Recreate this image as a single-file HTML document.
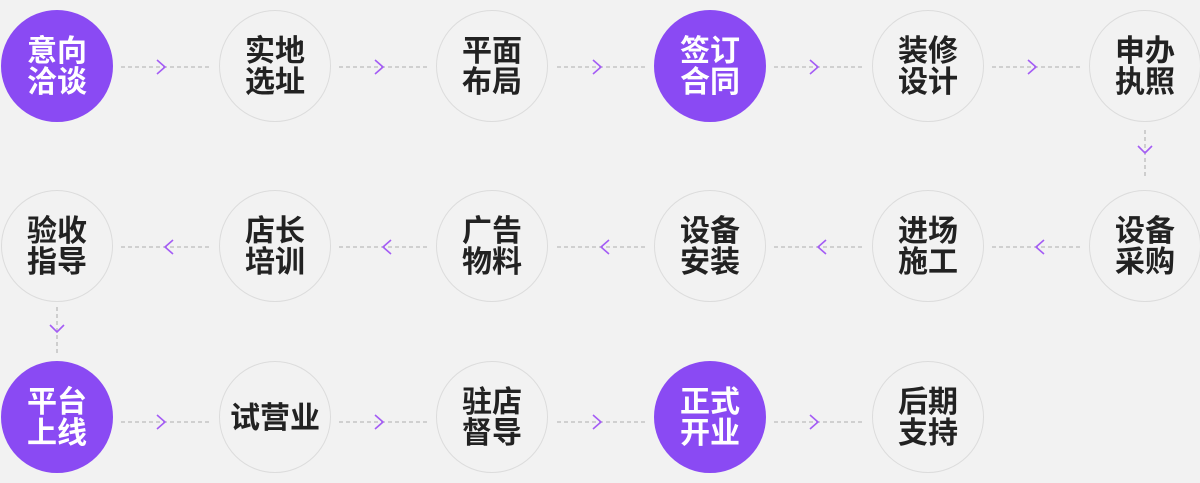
<!DOCTYPE html>
<html><head><meta charset="utf-8"><style>
html,body{margin:0;padding:0;}
body{width:1200px;height:483px;background:#f2f2f2;position:relative;overflow:hidden;font-family:"Liberation Sans","Noto Sans CJK SC",sans-serif;}
.c{position:absolute;width:110px;height:110px;border:1px solid #dcdcdc;border-radius:50%;display:flex;align-items:center;justify-content:center;text-align:center;font-weight:bold;font-size:30px;line-height:31px;padding-top:2px;height:108px;color:#222;box-sizing:content-box;}
.p{background:#8a4af3;border-color:#8a4af3;color:#fff;}
svg{position:absolute;left:0;top:0;}
</style></head><body>
<svg width="1200" height="483">
<g stroke="#bbb" stroke-width="1.3" stroke-dasharray="4,3" fill="none">
<line x1="121" y1="67" x2="211" y2="67"/><line x1="339" y1="67" x2="429" y2="67"/><line x1="557" y1="67" x2="647" y2="67"/><line x1="774" y1="67" x2="864" y2="67"/><line x1="992" y1="67" x2="1082" y2="67"/>
<line x1="121" y1="247" x2="211" y2="247"/><line x1="339" y1="247" x2="429" y2="247"/><line x1="557" y1="247" x2="647" y2="247"/><line x1="774" y1="247" x2="864" y2="247"/><line x1="992" y1="247" x2="1082" y2="247"/>
<line x1="121" y1="422" x2="211" y2="422"/><line x1="339" y1="422" x2="429" y2="422"/><line x1="557" y1="422" x2="647" y2="422"/><line x1="774" y1="422" x2="864" y2="422"/>
<line x1="1145" y1="130" x2="1145" y2="178"/><line x1="57" y1="307" x2="57" y2="354"/>
</g>
<g stroke="#a45cf5" stroke-width="1.6" fill="none">
<polyline points="157,60 165,67 157,74"/><polyline points="375,60 383,67 375,74"/><polyline points="593,60 601,67 593,74"/><polyline points="810,60 818,67 810,74"/><polyline points="1028,60 1036,67 1028,74"/>
<polyline points="173,240 165,247 173,254"/><polyline points="391,240 383,247 391,254"/><polyline points="609,240 601,247 609,254"/><polyline points="826,240 818,247 826,254"/><polyline points="1044,240 1036,247 1044,254"/>
<polyline points="157,415 165,422 157,429"/><polyline points="375,415 383,422 375,429"/><polyline points="593,415 601,422 593,429"/><polyline points="810,415 818,422 810,429"/>
<polyline points="1138,146 1145,153 1152,146"/><polyline points="50,325 57,332 64,325"/>
</g>
</svg>
<div class="c p" style="left:1px;top:10px">意向<br>洽谈</div>
<div class="c" style="left:219px;top:10px">实地<br>选址</div>
<div class="c" style="left:436px;top:10px">平面<br>布局</div>
<div class="c p" style="left:654px;top:10px">签订<br>合同</div>
<div class="c" style="left:872px;top:10px">装修<br>设计</div>
<div class="c" style="left:1089px;top:10px">申办<br>执照</div>
<div class="c" style="left:1px;top:190px">验收<br>指导</div>
<div class="c" style="left:219px;top:190px">店长<br>培训</div>
<div class="c" style="left:436px;top:190px">广告<br>物料</div>
<div class="c" style="left:654px;top:190px">设备<br>安装</div>
<div class="c" style="left:872px;top:190px">进场<br>施工</div>
<div class="c" style="left:1089px;top:190px">设备<br>采购</div>
<div class="c p" style="left:1px;top:361px">平台<br>上线</div>
<div class="c" style="left:219px;top:361px">试营业</div>
<div class="c" style="left:436px;top:361px">驻店<br>督导</div>
<div class="c p" style="left:654px;top:361px">正式<br>开业</div>
<div class="c" style="left:872px;top:361px">后期<br>支持</div>
</body></html>
